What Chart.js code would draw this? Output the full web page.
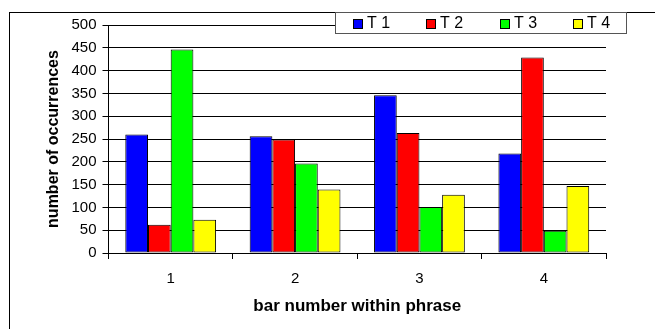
<!DOCTYPE html>
<html>
<head>
<meta charset="utf-8">
<script src="https://cdn.jsdelivr.net/npm/chart.js@4/dist/chart.umd.min.js"></script>
<style>
  html, body { margin: 0; padding: 0; background: #fff; }
  #wrap { position: relative; width: 655px; height: 329px; }
</style>
</head>
<body>
<div id="wrap"><canvas id="c" width="655" height="329"></canvas></div>
<script>
// Bar positions within a phrase
const categories = ['1', '2', '3', '4'];
const seriesNames = ['T 1', 'T 2', 'T 3', 'T 4'];
const seriesColors = ['#0000ff', '#ff0000', '#00ff00', '#ffff00'];

// Occurrence counts per series
const t1 = [260, 256, 346, 218];
const t2 = [62, 249, 263, 429];
const t3 = [446, 196, 101, 49];
const t4 = [73, 139, 128, 147];

const yMin = 0, yMax = 500, yStep = 50;

const FONT = "'Liberation Sans', Arial, sans-serif";

// Outer frame around the chart
const framePlugin = {
  id: 'frame',
  beforeDraw(chart) {
    const ctx = chart.ctx;
    ctx.save();
    ctx.fillStyle = '#fff';
    ctx.fillRect(0, 0, chart.width, chart.height);
    ctx.strokeStyle = '#000';
    ctx.lineWidth = 1;
    ctx.strokeRect(9.5, 12.5, 800, 400);
    ctx.restore();
  }
};

// Boxed legend along the top edge of the frame
const boxLegendPlugin = {
  id: 'boxLegend',
  afterDraw(chart) {
    const ctx = chart.ctx;
    ctx.save();
    const bx = 335.5, by = 12.5, bw = 291, bh = 21;
    ctx.fillStyle = '#fff';
    ctx.fillRect(bx, by, bw, bh);
    ctx.strokeStyle = '#555';
    ctx.lineWidth = 1;
    ctx.strokeRect(bx, by, bw, bh);
    ctx.font = '16px ' + FONT;
    ctx.textBaseline = 'middle';
    ctx.textAlign = 'left';
    chart.data.datasets.forEach((ds, i) => {
      const x = Math.round(353 + i * 73.3);
      ctx.fillStyle = ds.backgroundColor;
      ctx.fillRect(x + 0.5, 19.5, 9, 9);
      ctx.strokeStyle = '#000';
      ctx.strokeRect(x + 0.5, 19.5, 9, 9);
      ctx.fillStyle = '#000';
      ctx.fillText(ds.label, x + 14, 24);
    });
    ctx.restore();
  }
};

const seriesData = [t1, t2, t3, t4];

new Chart(document.getElementById('c'), {
  type: 'bar',
  data: {
    labels: categories,
    datasets: seriesNames.map((name, i) => ({
      label: name,
      data: seriesData[i],
      backgroundColor: seriesColors[i],
      borderColor: '#000',
      borderWidth: 1,
      borderSkipped: false
    }))
  },
  options: {
    responsive: false,
    animation: false,
    devicePixelRatio: 1,
    layout: { padding: { top: 25, right: 49, bottom: 0, left: 0 } },
    datasets: { bar: { categoryPercentage: 0.73, barPercentage: 1 } },
    plugins: { legend: { display: false }, tooltip: { enabled: false } },
    scales: {
      x: {
        afterFit(scale) { scale.height = 76; },
        grid: { display: true, drawOnChartArea: false, drawTicks: true, tickLength: 6, color: '#000', offset: true },
        border: { display: true, color: '#000', width: 1 },
        ticks: { color: '#000', font: { family: FONT, size: 15 }, padding: 11 },
        title: {
          display: true,
          text: 'bar number within phrase',
          color: '#000',
          font: { family: FONT, size: 17, weight: 'bold' },
          padding: { top: 0, bottom: 12 }
        }
      },
      y: {
        min: yMin,
        max: yMax,
        afterFit(scale) { scale.width = 108.5; },
        grid: { color: '#000', lineWidth: 1, drawTicks: true, tickLength: 6 },
        border: { display: true, color: '#000', width: 1 },
        ticks: { stepSize: yStep, color: '#000', font: { family: FONT, size: 15 }, padding: 6 },
        title: {
          display: true,
          text: 'number of occurrences',
          color: '#000',
          font: { family: FONT, size: 16, weight: 'bold' },
          padding: { top: 44, bottom: 0 }
        }
      }
    }
  },
  plugins: [framePlugin, boxLegendPlugin]
});
</script>
</body>
</html>
